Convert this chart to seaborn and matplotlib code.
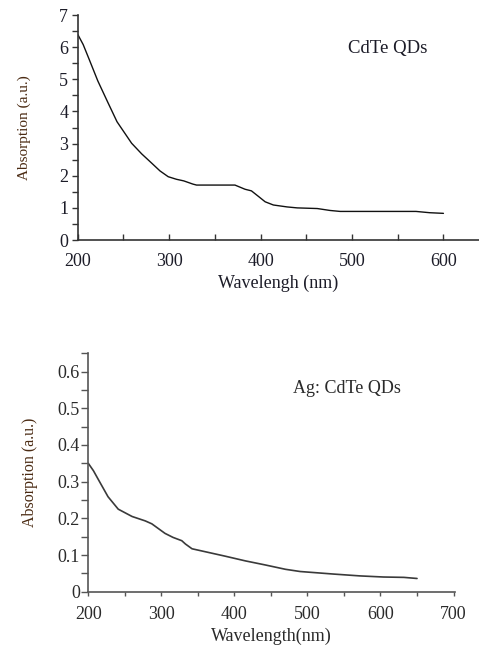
import matplotlib
matplotlib.use("Agg")
import matplotlib.pyplot as plt
from matplotlib.ticker import MultipleLocator
import seaborn as sns
import pandas as pd

# CdTe QDs absorption spectrum
cdte_wavelength = [200, 206, 212, 222, 233, 243, 259, 270, 281, 290, 299, 308, 316, 326,
                   330, 350, 372, 383, 390, 398, 405, 414, 429, 440, 462, 476, 487,
                   530, 570, 585, 600]
cdte_absorption = [6.40, 6.08, 5.66, 4.95, 4.28, 3.68, 3.01, 2.68, 2.39, 2.15, 1.97, 1.89, 1.84, 1.74,
                   1.71, 1.71, 1.71, 1.58, 1.53, 1.35, 1.19, 1.09, 1.03, 1.0, 0.98, 0.92, 0.89,
                   0.89, 0.89, 0.85, 0.83]

# Ag:CdTe QDs absorption spectrum
ag_wavelength = [200, 207, 214, 227, 241, 260, 278, 287, 305, 316, 328, 333, 342, 360,
                 387, 415, 442, 470, 490, 536, 572, 604, 632, 650]
ag_absorption = [0.35, 0.33, 0.305, 0.259, 0.225, 0.205, 0.193, 0.185, 0.159, 0.148,
                 0.139, 0.130, 0.117, 0.109, 0.097, 0.084, 0.073, 0.061, 0.055, 0.048,
                 0.043, 0.040, 0.039, 0.036]

top_ticks_x = [200, 300, 400, 500, 600]
top_ticks_y = [0, 1, 2, 3, 4, 5, 6, 7]
bottom_ticks_x = [200, 300, 400, 500, 600, 700]
bottom_ticks_y = [0, 0.1, 0.2, 0.3, 0.4, 0.5, 0.6]
bottom_tick_labels_y = ["0", "0.1", "0.2", "0.3", "0.4", "0.5", "0.6"]

sns.set_style("ticks")
plt.rcParams["font.family"] = ["Liberation Serif", "DejaVu Serif"]

text_color = "#1c1c28"
label_color = "#4a2a12"

fig = plt.figure(figsize=(4.79, 6.47), dpi=100)

# ---- top panel ----
ax1 = fig.add_axes([0.1622, 0.629, 0.838, 0.3478])
df1 = pd.DataFrame({"wl": cdte_wavelength, "abs": cdte_absorption})
sns.lineplot(data=df1, x="wl", y="abs", ax=ax1, color="#111111", linewidth=1.0)
ax1.set_xlim(200, 639)
ax1.set_ylim(0, 7)
ax1.set_xticks(top_ticks_x)
ax1.set_yticks(top_ticks_y)
ax1.xaxis.set_minor_locator(MultipleLocator(50))
ax1.yaxis.set_minor_locator(MultipleLocator(0.5))
ax1.tick_params(axis="x", which="both", direction="in", length=4, width=1, colors="#333333",
                labelcolor=text_color, labelsize=13, pad=9.5)
ax1.tick_params(axis="y", which="both", direction="out", length=4.3, width=1, colors="#333333",
                labelcolor=text_color, labelsize=13, pad=2.5)
ax1.set_xlabel("Wavelengh (nm)", fontsize=13, color=text_color, labelpad=3)
ax1.set_ylabel("Absorption (a.u.)", fontsize=11, color=label_color, labelpad=20)
ax1.text(539, 5.95, "CdTe QDs", fontsize=13.5, color=text_color, ha="center", va="center")
for s in ["top", "right"]:
    ax1.spines[s].set_visible(False)
for s in ["left", "bottom"]:
    ax1.spines[s].set_color("#333333")
    ax1.spines[s].set_linewidth(1.2)

# ---- bottom panel ----
ax2 = fig.add_axes([0.1843, 0.0855, 0.7656, 0.369])
df2 = pd.DataFrame({"wl": ag_wavelength, "abs": ag_absorption})
sns.lineplot(data=df2, x="wl", y="abs", ax=ax2, color="#3a3a3a", linewidth=1.2)
ax2.set_xlim(200, 702)
ax2.set_ylim(0, 0.651)
ax2.set_xticks(bottom_ticks_x)
ax2.set_yticks(bottom_ticks_y)
ax2.set_yticklabels(bottom_tick_labels_y)
ax2.xaxis.set_minor_locator(MultipleLocator(50))
ax2.yaxis.set_minor_locator(MultipleLocator(0.05))
ax2.tick_params(axis="x", which="both", direction="out", length=3, width=1, colors="#555555",
                labelcolor="#2a2a2a", labelsize=13, pad=7)
ax2.tick_params(axis="y", which="both", direction="out", length=5, width=1, colors="#555555",
                labelcolor="#2a2a2a", labelsize=13, pad=1)
ax2.set_xlabel("Wavelength(nm)", fontsize=13, color="#2a2a2a", labelpad=4)
ax2.set_ylabel("Absorption (a.u.)", fontsize=11.5, color=label_color, labelpad=14)
ax2.text(554, 0.555, "Ag: CdTe QDs", fontsize=13, color="#2a2a2a", ha="center", va="center")
for s in ["top", "right"]:
    ax2.spines[s].set_visible(False)
for s in ["left", "bottom"]:
    ax2.spines[s].set_color("#555555")
    ax2.spines[s].set_linewidth(1.2)

fig.savefig("out.png", dpi=100)
